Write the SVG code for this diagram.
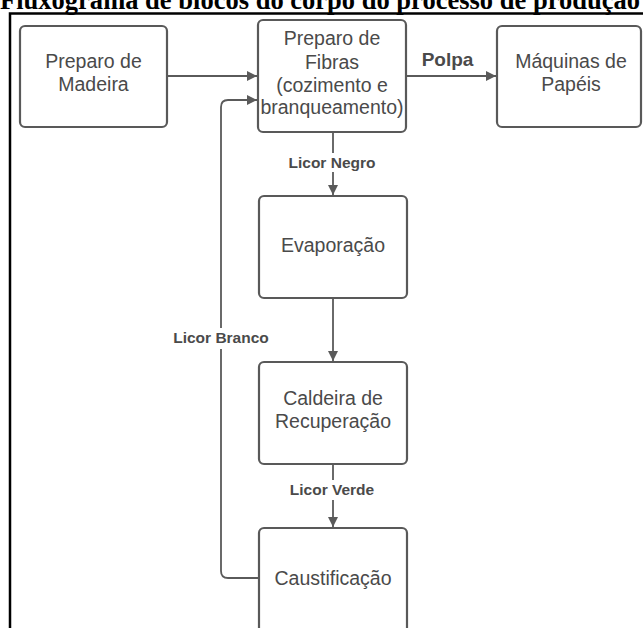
<svg xmlns="http://www.w3.org/2000/svg" width="643" height="628" viewBox="0 0 643 628">
<defs>
<style>
.box{fill:#fff;stroke:#595959;stroke-width:2.2}
.t{font-family:"Liberation Sans",Arial,sans-serif;font-size:19.5px;fill:#4a4a4a;text-anchor:middle}
.lbl{font-family:"Liberation Sans",Arial,sans-serif;font-size:15.5px;font-weight:bold;fill:#4a4a4a;text-anchor:middle}
.c{fill:none;stroke:#5a5a5a;stroke-width:1.8}
</style>
<marker id="ah" viewBox="0 0 10 10" refX="10" refY="5" markerWidth="10" markerHeight="10" markerUnits="userSpaceOnUse" orient="auto">
<path d="M0,0 L10,5 L0,10 Z" fill="#5a5a5a"/>
</marker>
</defs>
<rect width="643" height="628" fill="#fff"/>
<text x="0" y="9" font-family="Liberation Serif,Times New Roman,serif" font-weight="bold" font-size="26.5" fill="#000" textLength="640" lengthAdjust="spacingAndGlyphs">Fluxograma de blocos do corpo do processo de produção</text>
<path d="M10,628 V13.5 H643" fill="none" stroke="#000" stroke-width="2.5"/>
<g id="connectors">
<path class="c" d="M167,76 H257" marker-end="url(#ah)"/>
<path class="c" d="M406,76 H496" marker-end="url(#ah)"/>
<path class="c" d="M333,132 V153"/>
<path class="c" d="M333,172 V195" marker-end="url(#ah)"/>
<path class="c" d="M333,298 V361" marker-end="url(#ah)"/>
<path class="c" d="M333,464 V480"/>
<path class="c" d="M333,500 V527" marker-end="url(#ah)"/>
<path class="c" d="M259,578 H228 Q221,578 221,571 V349"/>
<path class="c" d="M221,328 V107 Q221,100 228,100 H257" marker-end="url(#ah)"/>
<text class="lbl" x="447.5" y="66" style="font-size:19px">Polpa</text>
<text class="lbl" x="332" y="168">Licor Negro</text>
<text class="lbl" x="221" y="343">Licor Branco</text>
<text class="lbl" x="332" y="495">Licor Verde</text>
</g>
<g id="preparo-madeira">
<rect class="box" x="20" y="26" width="147" height="101" rx="5"/>
<text class="t" x="93.5" y="68">Preparo de</text>
<text class="t" x="93.5" y="91">Madeira</text>
</g>
<g id="preparo-fibras">
<rect class="box" x="258" y="20" width="148" height="112" rx="5"/>
<text class="t" x="332" y="45">Preparo de</text>
<text class="t" x="332" y="68.5">Fibras</text>
<text class="t" x="332" y="91.5">(cozimento e</text>
<text class="t" x="332" y="114">branqueamento)</text>
</g>
<g id="maquinas-papeis">
<rect class="box" x="497" y="26" width="144" height="101" rx="5"/>
<text class="t" x="571" y="68">Máquinas de</text>
<text class="t" x="571" y="91">Papéis</text>
</g>
<g id="evaporacao">
<rect class="box" x="259" y="196" width="148" height="102" rx="5"/>
<text class="t" x="333" y="252">Evaporação</text>
</g>
<g id="caldeira">
<rect class="box" x="259" y="362" width="148" height="102" rx="5"/>
<text class="t" x="333" y="405">Caldeira de</text>
<text class="t" x="333" y="428">Recuperação</text>
</g>
<g id="caustificacao">
<rect class="box" x="259" y="528" width="148" height="110" rx="5"/>
<text class="t" x="333" y="585">Caustificação</text>
</g>
</svg>
